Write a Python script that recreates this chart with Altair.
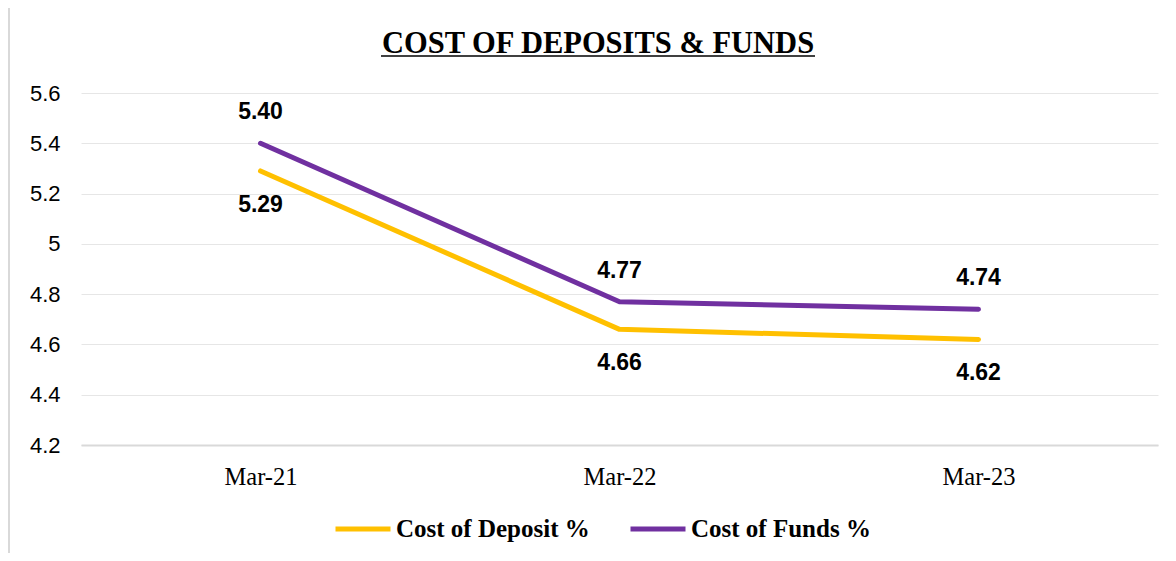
import altair as alt
import pandas as pd

periods = ["Mar-21", "Mar-22", "Mar-23"]
deposit = [5.29, 4.66, 4.62]
funds = [5.40, 4.77, 4.74]
series_names = ["Cost of Deposit %", "Cost of Funds %"]
colors = ["#FFC000", "#7030A0"]
y_ticks = [4.2, 4.4, 4.6, 4.8, 5.0, 5.2, 5.4, 5.6]
title_text = "COST OF DEPOSITS & FUNDS"

rows = []
for p, d, f in zip(periods, deposit, funds):
    rows.append({"period": p, "series": series_names[0], "value": d})
    rows.append({"period": p, "series": series_names[1], "value": f})
df = pd.DataFrame(rows)

x = alt.X(
    "period:N",
    sort=periods,
    scale=alt.Scale(type="point", padding=0.5),
    axis=alt.Axis(
        title=None, labelAngle=0, ticks=False, grid=False,
        domainColor="#d9d9d9", domainWidth=2,
        labelFont="Liberation Serif", labelFontSize=24.5, labelColor="#000000",
        labelPadding=20,
    ),
)
y = alt.Y(
    "value:Q",
    scale=alt.Scale(domain=[4.2, 5.6], nice=False, zero=False),
    axis=alt.Axis(
        values=y_ticks, format="~g", title=None, domain=False, ticks=False,
        labelFont="Liberation Sans", labelFontSize=22, labelColor="#000000",
        labelPadding=21, gridColor="#e6e6e6", gridWidth=1,
    ),
)
color = alt.Color(
    "series:N",
    scale=alt.Scale(domain=series_names, range=colors),
    legend=alt.Legend(
        orient="none", legendX=252, legendY=406, direction="horizontal",
        title=None, symbolType="stroke", symbolSize=3025, symbolStrokeWidth=5,
        labelFont="Liberation Serif", labelFontWeight="bold", labelFontSize=25,
        labelColor="#000000", labelOffset=3, columnPadding=30, padding=0,
        labelLimit=400,
    ),
)

base = alt.Chart(df)

lines = base.mark_line(strokeWidth=5, strokeCap="round", strokeJoin="round").encode(
    x=x, y=y, color=color, detail="series:N"
)

text_enc = dict(x=x, y=y, text=alt.Text("value:Q", format=".2f"))
lbl_funds = base.transform_filter(alt.datum.series == series_names[1]).mark_text(
    dy=-31, font="Liberation Sans", fontWeight="bold", fontSize=23, color="#000000"
).encode(**text_enc)
lbl_dep = base.transform_filter(alt.datum.series == series_names[0]).mark_text(
    dy=34, font="Liberation Sans", fontWeight="bold", fontSize=23, color="#000000"
).encode(**text_enc)

deco = alt.Chart(pd.DataFrame({"k": [0]}))
title_mark = deco.mark_text(
    font="Liberation Serif", fontSize=30.5, fontWeight="bold", color="#000000",
    align="center", baseline="alphabetic",
).encode(x=alt.value(517), y=alt.value(-40), text=alt.value(title_text))
underline = deco.mark_rule(color="#000000", strokeWidth=1.5).encode(
    x=alt.value(300), x2=alt.value(734), y=alt.value(-37)
)
left_border = deco.mark_rule(color="#d9d9d9", strokeWidth=2).encode(
    x=alt.value(-72), y=alt.value(-89), y2=alt.value(470)
)

chart = (
    alt.layer(left_border, lines, lbl_funds, lbl_dep, title_mark, underline)
    .properties(
        width=1077,
        height=352,
        autosize=alt.AutoSizeParams(type="none"),
        padding={"left": 73, "top": 85, "right": 10, "bottom": 108},
        background="#ffffff",
    )
    .configure_view(stroke=None)
)

chart.save("out.html", embed_options={"renderer": "svg", "actions": False})
